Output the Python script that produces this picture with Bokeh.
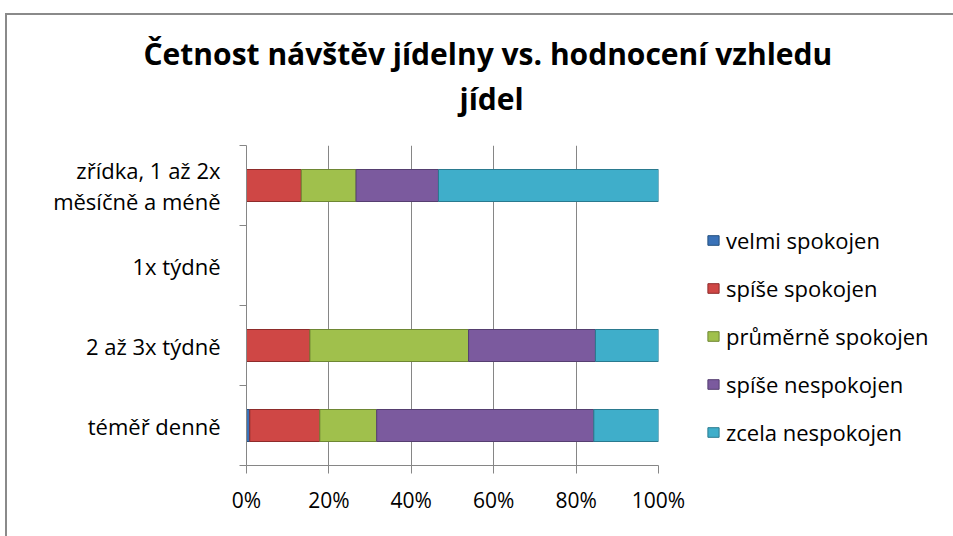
from bokeh.plotting import figure
from bokeh.models import (ColumnDataSource, Range1d, FixedTicker, PrintfTickFormatter,
                          Legend, LegendItem, Title)
from bokeh.embed import file_html
from bokeh.resources import INLINE

# ---- data (percent of respondents in each visit-frequency group) ----
categories = ["téměř denně", "2 až 3x týdně", "1x týdně", "zřídka, 1 až 2x\nměsíčně a méně"]
series_labels = ["velmi spokojen", "spíše spokojen", "průměrně spokojen",
                 "spíše nespokojen", "zcela nespokojen"]
velmi_spokojen = [0.8, 0.0, 0.0, 0.0]
spise_spokojen = [17.0, 15.4, 0.0, 13.3]
prumerne_spokojen = [13.8, 38.5, 0.0, 13.3]
spise_nespokojen = [52.7, 30.8, 0.0, 20.0]
zcela_nespokojen = [15.7, 15.4, 0.0, 53.4]
x_ticks = [0, 20, 40, 60, 80, 100]

colors = ["#3A72B8", "#CF4745", "#A0C04C", "#7B5A9E", "#3FAECA"]
edge_colors = ["#24507F", "#8E2B2A", "#6E8733", "#553E70", "#2A7A8F"]

keys = ["s0", "s1", "s2", "s3", "s4"]
pos = [i + 0.5 for i in range(len(categories))]
source = ColumnDataSource(dict(y=pos, s0=velmi_spokojen, s1=spise_spokojen,
                               s2=prumerne_spokojen, s3=spise_nespokojen,
                               s4=zcela_nespokojen))

FONT = "Open Sans"
GRAY = "#868686"

p = figure(frame_width=412, frame_height=320, output_backend="svg", toolbar_location=None,
           x_range=Range1d(0, 100), y_range=Range1d(0, 4),
           min_border_left=239, min_border_right=297, min_border_top=130,
           min_border_bottom=73, outline_line_color=None,
           margin=(13, 0, 0, 5),
           styles={"border-left": "2px solid #8a8a8a", "border-top": "2px solid #8a8a8a"})

renderers = p.hbar_stack(keys, y="y", height=0.4, source=source,
                         color=colors, line_color=edge_colors, line_width=1)

# titles (inner line first, outer line second)
p.add_layout(Title(text="jídel", align="left", text_font=FONT, text_color="black",
                   text_font_size="30px", text_font_style="bold",
                   standoff=53, offset=213), "above")
p.add_layout(Title(text="Četnost návštěv jídelny vs. hodnocení vzhledu", align="left",
                   text_font=FONT, text_font_size="30px", text_font_style="bold",
                   text_color="black", standoff=-48, offset=-103), "above")

# x axis
p.xaxis.ticker = FixedTicker(ticks=x_ticks)
p.xaxis.formatter = PrintfTickFormatter(format="%d%%")
p.xaxis.major_label_text_font = FONT
p.xaxis.major_label_text_font_size = "21px"
p.xaxis.major_label_text_color = "black"
p.xaxis.major_tick_out = 8
p.xaxis.major_tick_in = 0
p.xaxis.minor_tick_line_color = None
p.xaxis.axis_line_color = GRAY
p.xaxis.major_tick_line_color = GRAY
p.xaxis.major_label_standoff = 12

# y axis: labels at category centres, ticks at category boundaries
p.yaxis.ticker = FixedTicker(ticks=pos, minor_ticks=[0, 1, 2, 3, 4])
p.yaxis.major_label_overrides = {v: c for v, c in zip(pos, categories)}
p.yaxis.major_label_text_font = FONT
p.yaxis.major_label_text_font_size = "22px"
p.yaxis.major_label_text_line_height = 1.05
p.yaxis.major_label_text_color = "black"
p.yaxis.major_tick_line_color = None
p.yaxis.minor_tick_out = 7
p.yaxis.minor_tick_in = 0
p.yaxis.minor_tick_line_color = GRAY
p.yaxis.axis_line_color = GRAY
p.yaxis.major_label_standoff = 19

p.xgrid.grid_line_color = GRAY
p.ygrid.grid_line_color = None

legend = Legend(items=[LegendItem(label=l, renderers=[r]) for l, r in zip(series_labels, renderers)],
                location=(48, 18), orientation="vertical",
                label_text_font=FONT, label_text_font_size="22px",
                label_text_color="black",
                glyph_width=14, glyph_height=12, label_height=28, spacing=18,
                label_standoff=6, padding=0, margin=0,
                border_line_color=None, background_fill_alpha=0)
p.add_layout(legend, "right")

open("out.html", "w").write(file_html(p, INLINE))
